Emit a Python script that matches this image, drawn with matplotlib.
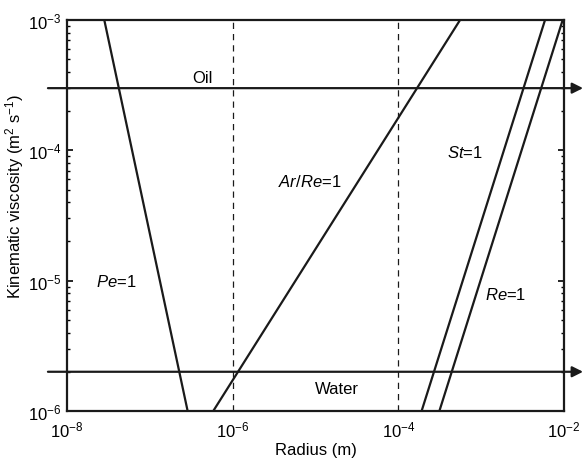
import matplotlib
matplotlib.use("Agg")
import matplotlib.pyplot as plt
from matplotlib.ticker import LogLocator, FixedLocator, NullFormatter, FuncFormatter
import math

plt.rcParams['font.family'] = ['Liberation Sans', 'DejaVu Sans']
plt.rcParams['mathtext.fontset'] = 'custom'
plt.rcParams['mathtext.rm'] = 'Liberation Sans'
plt.rcParams['mathtext.it'] = 'Liberation Sans:italic'
plt.rcParams['mathtext.bf'] = 'Liberation Sans:bold'

# Data
nu_ends = [1e-3, 1e-6]           # viscosity at line ends (top, bottom)
pe_r = [2.82e-8, 2.86e-7]        # Pe=1
arre_r = [5.56e-4, 5.83e-7]      # Ar/Re=1
st_r = [5.9e-3, 1.91e-4]         # St=1
re_r = [9.64e-3, 3.13e-4]        # Re=1
oil_nu = 3e-4
water_nu = 2e-6
dashed_r = [1e-6, 1e-4]
x_ticks = [1e-8, 1e-6, 1e-4, 1e-2]
y_ticks = [1e-6, 1e-5, 1e-4, 1e-3]

fig = plt.figure(figsize=(5.84, 4.6), dpi=100)
ax = fig.add_axes([67/584, 1-412/460, (564-67)/584, (412-21)/460])
ax.set_xscale('log')
ax.set_yscale('log')
ax.set_xlim(1e-8, 1e-2)
ax.set_ylim(1e-6, 1e-3)

for r in (pe_r, arre_r, st_r, re_r):
    ax.plot(r, nu_ends, color='#1a1a1a', lw=1.6, solid_capstyle='butt')

for xr in dashed_r:
    ax.axvline(xr, color='#1a1a1a', lw=0.9, ls=(0, (5, 4)))

for nu in (oil_nu, water_nu):
    ax.annotate('', xy=(10**-1.77, nu), xytext=(10**-8.23, nu),
                xycoords='data', textcoords='data', annotation_clip=False,
                arrowprops=dict(arrowstyle='-|>', lw=1.6, color='#1a1a1a',
                                mutation_scale=16, shrinkA=0, shrinkB=0))

fs = 12
ax.text(10**-6.36, 10**-3.445, 'Oil', fontsize=fs, ha='center', va='center')
ax.text(10**-4.74, 10**-5.83, 'Water', fontsize=fs, ha='center', va='center')
ax.text(10**-7.4, 10**-5.0, r'$\it{Pe}$=1', fontsize=fs, ha='center', va='center')
ax.text(10**-5.07, 10**-4.235, r'$\it{Ar/Re}$=1', fontsize=fs, ha='center', va='center')
ax.text(10**-3.2, 10**-4.01, r'$\it{St}$=1', fontsize=fs, ha='center', va='center')
ax.text(10**-2.7, 10**-5.10, r'$\it{Re}$=1', fontsize=fs, ha='center', va='center')

def fmt(v, pos):
    e = int(round(math.log10(v)))
    return r'$10^{%d}$' % e

ax.xaxis.set_major_locator(FixedLocator(x_ticks))
ax.xaxis.set_minor_locator(FixedLocator([]))
ax.xaxis.set_major_formatter(FuncFormatter(fmt))
ax.yaxis.set_major_locator(FixedLocator(y_ticks))
ax.yaxis.set_minor_locator(LogLocator(base=10, subs=range(2, 10)))
ax.yaxis.set_minor_formatter(NullFormatter())
ax.yaxis.set_major_formatter(FuncFormatter(fmt))

ax.tick_params(axis='x', which='both', length=0, labelsize=fs, pad=6)
ax.tick_params(axis='y', which='major', direction='in', length=4, width=1.2,
               right=True, labelsize=fs, pad=4)
ax.tick_params(axis='y', which='minor', direction='in', length=2, width=1.0, right=True)

for s in ax.spines.values():
    s.set_linewidth(1.6)
    s.set_color('#1a1a1a')

ax.set_xlabel('Radius (m)', fontsize=fs, labelpad=2)
ax.set_ylabel(r'Kinematic viscosity (m$^2$ s$^{-1}$)', fontsize=fs)
ax.yaxis.set_label_coords(-0.083, 0.55)

fig.savefig('out.png', dpi=100)
